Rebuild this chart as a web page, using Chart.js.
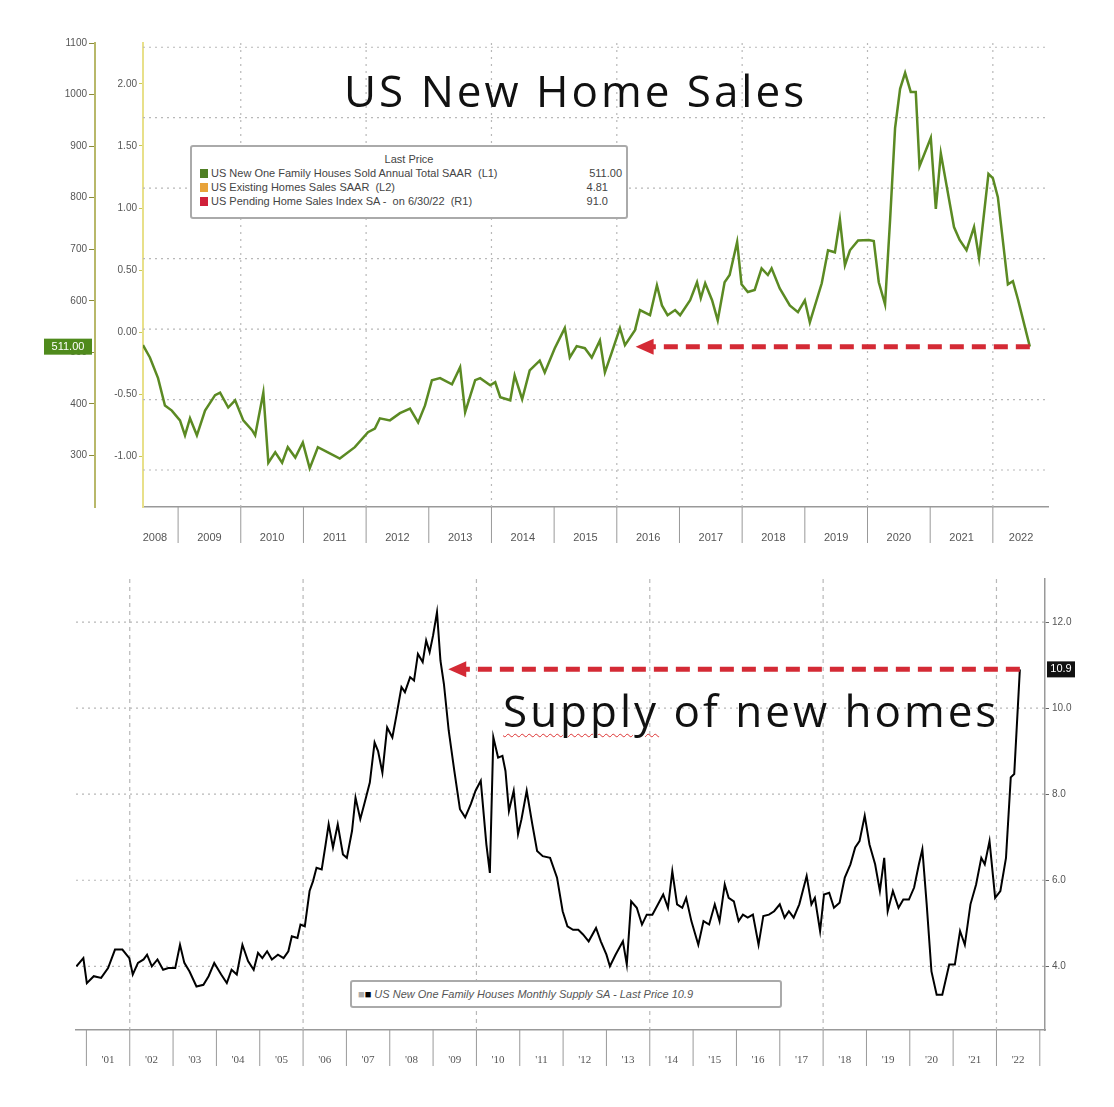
<!DOCTYPE html>
<html>
<head>
<meta charset="utf-8">
<script src="https://cdn.jsdelivr.net/npm/chart.js@4.4.1/dist/chart.umd.min.js"></script>
<style>
  body { margin: 0; background: #fff; width: 1114px; height: 1107px; position: relative; overflow: hidden; font-family: "Open Sans", sans-serif; }
  .wrap { position: absolute; left: 0; width: 1114px; }
  #top { top: 0; height: 545px; }
  #bot { top: 570px; height: 537px; }
  .title { position: absolute; font-family: "Open Sans", sans-serif; color: #111; white-space: nowrap; font-size: 44px; letter-spacing: 3px; }
  .legend { position: absolute; border: 2px solid #aaa; border-radius: 3px; background: #fff; font-family: "Liberation Sans", sans-serif; font-size: 11px; color: #444; line-height: 14px; }
  .sw { display: inline-block; width: 8px; height: 9px; margin-right: 3px; vertical-align: -1px; }
  .squig { text-decoration: underline wavy #d33; text-decoration-thickness: 1px; text-underline-offset: 6px; }
</style>
</head>
<body>
<div class="wrap" id="top"><canvas id="sales"></canvas></div>
<div class="wrap" id="bot"><canvas id="supply"></canvas></div>

<div class="title" style="left:344px; top:60px;">US New Home Sales</div>
<div class="legend" style="left:190px; top:145px; width:434px; height:70px;">
  <div style="text-align:center; margin-top:5px;">Last Price</div>
  <div style="padding-left:8px;"><span class="sw" style="background:#4f7f24"></span>US New One Family Houses Sold Annual Total SAAR &nbsp;(L1) <span style="float:right;margin-right:4px">511.00</span></div>
  <div style="padding-left:8px;"><span class="sw" style="background:#e8a33a"></span>US Existing Homes Sales SAAR &nbsp;(L2) <span style="float:right;margin-right:18px">4.81</span></div>
  <div style="padding-left:8px;"><span class="sw" style="background:#d0203a"></span>US Pending Home Sales Index SA - &nbsp;on 6/30/22 &nbsp;(R1) <span style="float:right;margin-right:18px">91.0</span></div>
</div>

<div class="title" style="left:503px; top:680px;"><span class="squig">Supply</span> of new homes</div>
<div class="legend" style="left:350px; top:980px; width:428px; height:24px; font-style:italic; color:#555;">
  <div style="padding:5px 0 0 6px;"><span style="color:#aaa">&#9632;</span><span style="color:#000">&#9632;</span> US New One Family Houses Monthly Supply SA - Last Price 10.9</div>
</div>

<script>
// US new one family houses sold, SAAR (thousands), by year
const salesYears = [2008.44, 2008.55, 2008.68, 2008.79, 2008.9, 2009.03, 2009.11, 2009.19, 2009.3, 2009.43, 2009.59, 2009.67, 2009.8, 2009.91,
  2010.04, 2010.18, 2010.23, 2010.36, 2010.44, 2010.55, 2010.66, 2010.75, 2010.87, 2010.99, 2011.1, 2011.23, 2011.39, 2011.58, 2011.82,
  2012.03, 2012.14, 2012.22, 2012.38, 2012.54, 2012.7, 2012.83, 2012.94, 2013.05, 2013.18, 2013.37, 2013.5, 2013.58, 2013.74, 2013.82, 2013.98,
  2014.06, 2014.14, 2014.3, 2014.37, 2014.49, 2014.61, 2014.77, 2014.85, 2015.01, 2015.17, 2015.25, 2015.36, 2015.49, 2015.6, 2015.73, 2015.81, 2015.92,
  2016.05, 2016.13, 2016.29, 2016.37, 2016.53, 2016.64, 2016.72, 2016.81, 2016.93, 2017.01, 2017.17, 2017.28, 2017.34, 2017.41, 2017.52, 2017.61,
  2017.72, 2017.8, 2017.92, 2017.99, 2018.09, 2018.2, 2018.31, 2018.41, 2018.47, 2018.6, 2018.76, 2018.89, 2019.0, 2019.08, 2019.27, 2019.37,
  2019.48, 2019.56, 2019.64, 2019.72, 2019.85, 2020.02, 2020.1, 2020.18, 2020.28, 2020.36, 2020.44, 2020.52, 2020.6, 2020.69, 2020.77, 2020.83,
  2021.01, 2021.09, 2021.17, 2021.38, 2021.47, 2021.58, 2021.7, 2021.78, 2021.93, 2022.0, 2022.08, 2022.24, 2022.32, 2022.4, 2022.59];
const salesValues = [514, 490, 450, 397, 387, 368, 339, 372, 339, 387, 417, 422, 393, 407,
  368, 349, 339, 422, 286, 306, 286, 316, 296, 325, 275, 316, 306, 294, 316,
  345, 352, 372, 368, 382, 391, 364, 397, 446, 450, 438, 471, 384, 446, 450, 436,
  442, 413, 407, 455, 409, 465, 484, 461, 508, 547, 490, 512, 508, 490, 523, 461, 500,
  547, 514, 543, 582, 572, 630, 591, 572, 582, 572, 601, 636, 605, 634, 601, 562,
  636, 650, 714, 632, 617, 621, 663, 650, 663, 624, 591, 578, 601, 558, 634, 698,
  694, 757, 669, 698, 717, 718, 716, 636, 593, 756, 935, 1011, 1042, 1005, 1005, 861,
  916, 778, 886, 743, 718, 698, 743, 683, 846, 838, 801, 632, 638, 603, 511];
const salesYearLabels = ['2008', '2009', '2010', '2011', '2012', '2013', '2014', '2015', '2016', '2017', '2018', '2019', '2020', '2021', '2022'];
const salesLabelPos = [2008.63, 2009.5, 2010.5, 2011.5, 2012.5, 2013.5, 2014.5, 2015.5, 2016.5, 2017.5, 2018.5, 2019.5, 2020.5, 2021.5, 2022.45];
const salesLeftTicks = [300, 400, 500, 600, 700, 800, 900, 1000, 1100];
const salesRightTicks = [-1, -0.5, 0, 0.5, 1, 1.5, 2];

// US new one family houses monthly supply (months)
const supplyYears = [2000.77, 2000.93, 2001.01, 2001.17, 2001.34, 2001.5, 2001.66, 2001.83, 2001.99, 2002.07, 2002.19, 2002.32, 2002.4, 2002.51,
  2002.64, 2002.77, 2002.89, 2003.05, 2003.16, 2003.26, 2003.38, 2003.54, 2003.7, 2003.82, 2003.95, 2004.11, 2004.24, 2004.35, 2004.47, 2004.6,
  2004.73, 2004.86, 2004.96, 2005.06, 2005.17, 2005.28, 2005.42, 2005.55, 2005.66, 2005.74, 2005.87, 2005.94, 2006.04, 2006.15, 2006.23, 2006.31,
  2006.43, 2006.52, 2006.59, 2006.69, 2006.8, 2006.92, 2007.01, 2007.13, 2007.21, 2007.32, 2007.42, 2007.54, 2007.65, 2007.73, 2007.83, 2007.94,
  2008.06, 2008.16, 2008.27, 2008.35, 2008.47, 2008.56, 2008.65, 2008.76, 2008.84, 2008.92, 2009.0, 2009.09, 2009.17, 2009.25, 2009.36, 2009.49,
  2009.62, 2009.74, 2009.87, 2009.98, 2010.1, 2010.23, 2010.31, 2010.39, 2010.5, 2010.6, 2010.67, 2010.75, 2010.86, 2010.96, 2011.04, 2011.16,
  2011.29, 2011.4, 2011.53, 2011.7, 2011.86, 2011.99, 2012.1, 2012.23, 2012.35, 2012.46, 2012.59, 2012.76, 2012.87, 2013.0, 2013.08, 2013.21,
  2013.38, 2013.47, 2013.57, 2013.7, 2013.82, 2013.93, 2014.06, 2014.19, 2014.31, 2014.42, 2014.52, 2014.63, 2014.75, 2014.84, 2014.96, 2015.12,
  2015.24, 2015.37, 2015.5, 2015.61, 2015.73, 2015.82, 2015.94, 2016.05, 2016.15, 2016.26, 2016.38, 2016.51, 2016.62, 2016.75, 2016.87, 2017.0,
  2017.11, 2017.21, 2017.32, 2017.45, 2017.62, 2017.73, 2017.81, 2017.93, 2018.02, 2018.14, 2018.25, 2018.38, 2018.5, 2018.63, 2018.74, 2018.84,
  2018.96, 2019.07, 2019.2, 2019.31, 2019.41, 2019.49, 2019.61, 2019.74, 2019.85, 2019.98, 2020.1, 2020.21, 2020.29, 2020.39, 2020.5, 2020.62,
  2020.75, 2020.91, 2021.04, 2021.16, 2021.27, 2021.4, 2021.53, 2021.65, 2021.73, 2021.84, 2021.97, 2022.09, 2022.22, 2022.33, 2022.41, 2022.54];
const supplyValues = [4.0, 4.19, 3.61, 3.77, 3.73, 3.96, 4.39, 4.39, 4.19, 3.81, 4.08, 4.16, 4.27, 4.0,
  4.16, 3.92, 3.96, 3.96, 4.5, 4.08, 3.88, 3.53, 3.57, 3.77, 4.08, 3.81, 3.61, 3.92, 3.81, 4.5,
  4.12, 3.92, 4.31, 4.19, 4.35, 4.16, 4.27, 4.19, 4.35, 4.7, 4.66, 4.97, 4.93, 5.75, 5.98, 6.29,
  6.25, 6.83, 7.3, 6.76, 7.3, 6.6, 6.52, 7.15, 7.92, 7.42, 7.8, 8.27, 9.2, 9.0, 8.5, 9.55,
  9.32, 9.86, 10.49, 10.37, 10.72, 10.64, 11.26, 11.07, 11.57, 11.3, 11.69, 12.23, 11.1, 10.56, 9.48, 8.54,
  7.65, 7.46, 7.77, 8.08, 8.31, 6.83, 6.17, 9.32, 8.85, 8.89, 8.54, 7.61, 8.08, 7.07, 7.42, 8.08,
  7.3, 6.68, 6.56, 6.52, 6.06, 5.28, 4.93, 4.85, 4.85, 4.74, 4.58, 4.89, 4.58, 4.27, 4.0, 4.27,
  4.58, 4.04, 5.51, 5.36, 4.97, 5.2, 5.2, 5.44, 5.67, 5.36, 6.21, 5.44, 5.36, 5.59, 5.05, 4.5,
  5.05, 4.97, 5.44, 5.05, 5.9, 5.59, 5.51, 5.05, 5.2, 5.13, 5.2, 4.5, 5.17, 5.2, 5.28, 5.44,
  5.13, 5.28, 5.13, 5.44, 6.1, 5.44, 5.59, 4.82, 5.67, 5.71, 5.36, 5.48, 6.06, 6.37, 6.76, 6.91,
  7.5, 6.83, 6.37, 5.75, 6.52, 5.28, 5.75, 5.36, 5.55, 5.55, 5.83, 6.37, 6.72, 5.44, 3.88, 3.34,
  3.34, 4.04, 4.04, 4.82, 4.5, 5.44, 5.9, 6.52, 6.37, 6.91, 5.59, 5.75, 6.52, 8.39, 8.47, 10.9];
const supplyYearLabels = ["'01", "'02", "'03", "'04", "'05", "'06", "'07", "'08", "'09", "'10", "'11", "'12", "'13", "'14", "'15", "'16", "'17", "'18", "'19", "'20", "'21", "'22"];
const supplyTicks = [4, 6, 8, 10, 12];

const toXY = (xs, ys) => xs.map((x, i) => ({ x: x, y: ys[i] }));

// extra drawing: year dividers, dotted grid, dashed arrow, value tags
const decor = {
  id: 'decor',
  beforeDatasetsDraw(chart, args, o) {
    const { ctx, chartArea: a, scales } = chart;
    const xs = scales.x;
    ctx.save();
    ctx.strokeStyle = '#b8b8b8';
    ctx.lineWidth = 1.2;
    ctx.setLineDash([2, 4]);
    o.hGrid.forEach(v => {
      const y = scales[o.hAxis].getPixelForValue(v);
      ctx.beginPath(); ctx.moveTo(a.left, y); ctx.lineTo(a.right, y); ctx.stroke();
    });
    ctx.setLineDash(o.vDash);
    o.vGrid.forEach(v => {
      const x = xs.getPixelForValue(v);
      ctx.beginPath(); ctx.moveTo(x, a.top); ctx.lineTo(x, a.bottom); ctx.stroke();
    });
    ctx.setLineDash([]);
    ctx.strokeStyle = '#999';
    ctx.lineWidth = 1;
    for (let yr = o.firstYear; yr <= o.lastYear; yr++) {
      const x = xs.getPixelForValue(yr);
      ctx.beginPath(); ctx.moveTo(x, a.bottom); ctx.lineTo(x, a.bottom + o.divLen); ctx.stroke();
    }
    ctx.restore();
  },
  afterDatasetsDraw(chart, args, o) {
    const { ctx, scales } = chart;
    const ys = scales[o.valAxis];
    ctx.save();
    const y = ys.getPixelForValue(o.arrow.y);
    const x1 = scales.x.getPixelForValue(o.arrow.from);
    const x0 = scales.x.getPixelForValue(o.arrow.to);
    ctx.strokeStyle = '#d42a35';
    ctx.lineWidth = 5;
    ctx.setLineDash([14, 8]);
    ctx.beginPath(); ctx.moveTo(x1, y); ctx.lineTo(x0 + 14, y); ctx.stroke();
    ctx.setLineDash([]);
    ctx.fillStyle = '#d42a35';
    ctx.beginPath(); ctx.moveTo(x0, y); ctx.lineTo(x0 + 18, y - 8); ctx.lineTo(x0 + 18, y + 8); ctx.closePath(); ctx.fill();
    const t = o.tag;
    ctx.fillStyle = t.bg;
    ctx.fillRect(t.x, y - 8, t.w, 16);
    ctx.fillStyle = '#fff';
    ctx.font = '11px "Liberation Sans"';
    ctx.textBaseline = 'middle';
    ctx.textAlign = 'center';
    ctx.fillText(t.text, t.x + t.w / 2, y);
    ctx.restore();
  }
};

const fixedW = w => function (s) { s.width = w; };
const fixedH = h => function (s) { s.height = h; };

function setup(id, w, h) {
  const c = document.getElementById(id);
  c.width = w; c.height = h;
  c.style.width = w + 'px'; c.style.height = h + 'px';
  return c.getContext('2d');
}

new Chart(setup('sales', 1114, 545), {
  type: 'line',
  data: {
    datasets: [{
      data: toXY(salesYears, salesValues),
      borderColor: '#5b8a23',
      borderWidth: 2.5,
      pointRadius: 0,
      tension: 0,
      yAxisID: 'y'
    }]
  },
  options: {
    responsive: false,
    animation: false,
    layout: { padding: { top: 43, right: 66, left: 0, bottom: 0 } },
    plugins: {
      legend: { display: false }, tooltip: { enabled: false },
      decor: {
        hAxis: 'yg', hGrid: [0, 1, 2, 3, 4, 5, 6],
        vGrid: [2010, 2012, 2014, 2016, 2018, 2020, 2022], vDash: [2, 5],
        firstYear: 2009, lastYear: 2022, divLen: 36,
        valAxis: 'y', arrow: { y: 511, from: 2022.59, to: 2016.3 },
        tag: { x: 44, w: 48, bg: '#4f8a1c', text: '511.00' }
      }
    },
    scales: {
      x: {
        type: 'linear', min: 2008.44, max: 2022.88,
        afterBuildTicks: s => { s.ticks = salesLabelPos.map(v => ({ value: v })); },
        afterFit: fixedH(38),
        grid: { display: false },
        border: { color: '#999', width: 1.5 },
        ticks: { autoSkip: false, maxRotation: 0, color: '#555', font: { size: 11, family: 'Liberation Sans' }, padding: 16,
          callback: (v, i) => salesYearLabels[i] }
      },
      y: {
        position: 'left', weight: 2, min: 200, max: 1100,
        afterBuildTicks: s => { s.ticks = salesLeftTicks.map(v => ({ value: v })); },
        afterFit: fixedW(95),
        grid: { drawOnChartArea: false, color: '#8a8a3a', tickLength: 6 },
        border: { color: '#b8b86a', width: 2 },
        ticks: { color: '#555', font: { size: 10, family: 'Liberation Sans' }, padding: 2, callback: v => String(v) }
      },
      y1: {
        position: 'left', weight: 1, min: -1.41, max: 2.33,
        afterBuildTicks: s => { s.ticks = salesRightTicks.map(v => ({ value: v })); },
        afterFit: fixedW(48),
        grid: { drawOnChartArea: false, color: '#c8c85a', tickLength: 4 },
        border: { color: '#e8e08a', width: 2 },
        ticks: { color: '#555', font: { size: 10, family: 'Liberation Sans' }, padding: 2,
          callback: v => v.toFixed(2) }
      },
      yg: { display: false, min: -0.525, max: 6.06 }
    }
  },
  plugins: [decor]
});

new Chart(setup('supply', 1114, 537), {
  type: 'line',
  data: {
    datasets: [{
      data: toXY(supplyYears, supplyValues),
      borderColor: '#000',
      borderWidth: 2,
      pointRadius: 0,
      tension: 0
    }]
  },
  options: {
    responsive: false,
    animation: false,
    layout: { padding: { top: 8, right: 0, left: 76, bottom: 37 } },
    plugins: {
      legend: { display: false }, tooltip: { enabled: false },
      decor: {
        hAxis: 'y', hGrid: supplyTicks,
        vGrid: [2002, 2006, 2010, 2014, 2018, 2022], vDash: [4, 4],
        firstYear: 2001, lastYear: 2023, divLen: 36,
        valAxis: 'y', arrow: { y: 10.9, from: 2022.54, to: 2009.35 },
        tag: { x: 1047, w: 28, bg: '#111', text: '10.9' }
      }
    },
    scales: {
      x: {
        type: 'linear', min: 2000.76, max: 2023.12,
        afterBuildTicks: s => { s.ticks = supplyYearLabels.map((l, i) => ({ value: 2001.5 + i })); },
        afterFit: fixedH(40),
        grid: { display: false },
        border: { color: '#999', width: 1.5 },
        ticks: { autoSkip: false, maxRotation: 0, color: '#555', font: { size: 11, family: 'Liberation Serif' }, padding: 16,
          callback: (v, i) => supplyYearLabels[i] }
      },
      y: {
        position: 'right', min: 2.52, max: 13.0,
        afterBuildTicks: s => { s.ticks = supplyTicks.map(v => ({ value: v })); },
        afterFit: fixedW(69),
        grid: { drawOnChartArea: false, color: '#666', tickLength: 4 },
        border: { color: '#999', width: 1.5 },
        ticks: { color: '#555', font: { size: 10, family: 'Liberation Sans' }, padding: 3,
          callback: v => v.toFixed(1) }
      }
    }
  },
  plugins: [decor]
});
</script>
</body>
</html>
